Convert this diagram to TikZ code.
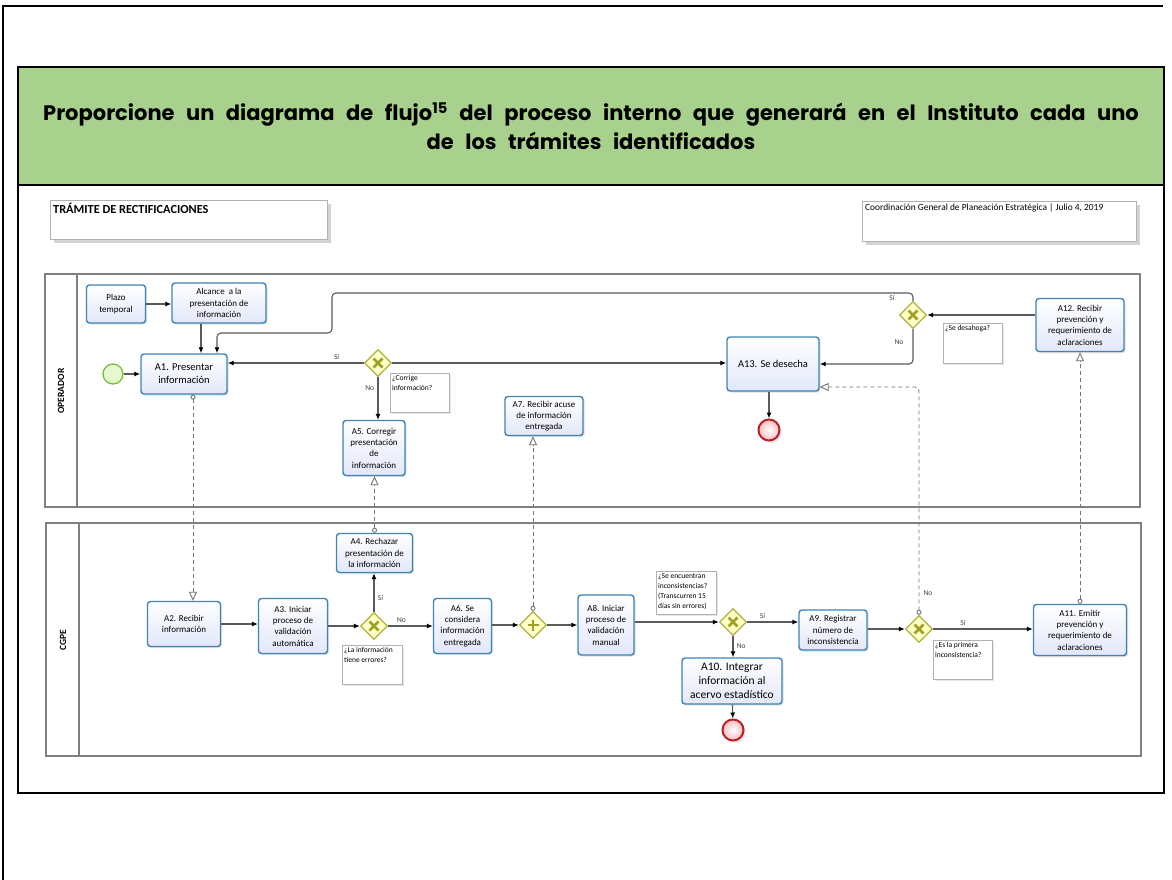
\documentclass[tikz,border=0pt]{standalone}
\usepackage{fontspec}
\setmainfont{Carlito}
\newfontfamily\titlefont{Poppins}
\usepackage{tikz}
\usetikzlibrary{calc,arrows.meta,shapes.geometric,shadows}

\definecolor{taskline}{RGB}{62,132,180}
\definecolor{taskfill}{RGB}{226,231,250}
\definecolor{gateline}{RGB}{176,176,60}
\definecolor{gatefill}{RGB}{255,255,200}
\definecolor{gatemark}{RGB}{160,160,40}
\definecolor{endline}{RGB}{190,30,40}
\definecolor{endfill}{RGB}{245,190,190}
\definecolor{startline}{RGB}{120,190,60}
\definecolor{startfill}{RGB}{230,248,205}
\definecolor{hdrgreen}{RGB}{169,209,142}
\definecolor{flowgray}{RGB}{90,90,90}

\def\tasksz{\fontsize{9}{11.3}\selectfont}
\def\bigsz{\fontsize{10.5}{12.7}\selectfont}
\def\notesz{\fontsize{7.5}{10}\selectfont}
\def\actnode{\node[task]}
\def\gatenode{\node[gateway]}
\def\seqflow{\draw[seq]}
\def\msgflow{\draw[msg]}
\newcommand\notebox[3]{\parbox[t][#2][t]{#1}{\raggedright #3}}

\tikzset{
  sz/.style 2 args={minimum width=#1pt, minimum height=#2pt},
  task/.style={rounded corners=3pt, draw=taskline, line width=1.4pt,
    top color=white, bottom color=taskfill, align=center, inner sep=1pt,
    font=\tasksz, drop shadow={shadow xshift=1.5pt, shadow yshift=-1.5pt, opacity=.25}},
  gateway/.style={diamond, aspect=1, minimum size=27pt, inner sep=0pt,
    draw=gateline, line width=1.3pt, fill=gatefill,
    path picture={\draw[line width=2.6pt, gatemark]
      ($(path picture bounding box.center)+(-4.5pt,-4.5pt)$) -- ($(path picture bounding box.center)+(4.5pt,4.5pt)$)
      ($(path picture bounding box.center)+(-4.5pt,4.5pt)$) -- ($(path picture bounding box.center)+(4.5pt,-4.5pt)$);}},
  pargate/.style={diamond, aspect=1, minimum size=27pt, inner sep=0pt,
    draw=gateline, line width=1.3pt, fill=gatefill,
    path picture={\draw[line width=2.8pt, gatemark]
      ($(path picture bounding box.center)+(-5.5pt,0pt)$) -- ($(path picture bounding box.center)+(5.5pt,0pt)$)
      ($(path picture bounding box.center)+(0pt,5.5pt)$) -- ($(path picture bounding box.center)+(0pt,-5.5pt)$);}},
  startev/.style={circle, minimum size=20pt, inner sep=0pt, draw=startline, line width=1.3pt, fill=startfill},
  endev/.style={circle, minimum size=21pt, inner sep=0pt, draw=endline, line width=2pt,
    inner color=white, outer color=endfill, drop shadow={opacity=.2}},
  annot/.style={draw=gray!60, fill=white, inner sep=2pt, anchor=north west, font=\notesz,
    drop shadow={shadow xshift=2pt, shadow yshift=-2pt, opacity=.2}},
  hdrbox/.style={draw=gray!60, fill=white, inner sep=3pt, anchor=north west,
    drop shadow={shadow xshift=4pt, shadow yshift=-4pt, opacity=.35}},
  seq/.style={draw=flowgray, line width=1.1pt, -{Latex[length=6pt,width=5pt,black]}},
  msg/.style={draw=gray!90!black, line width=0.9pt, dash pattern=on 4pt off 3pt,
    {Circle[open,length=5pt,width=5pt]}-{Triangle[open,length=9pt,width=8pt]}},
  pool/.style={draw=gray, line width=1.3pt},
  lanelabel/.style={rotate=90, font=\fontsize{9.5}{11}\selectfont\bfseries},
  flowlabel/.style={font=\fontsize{7.5}{9}\selectfont, text=black!75}
}

\begin{document}
\begin{tikzpicture}[x=1pt,y=-1pt]
\useasboundingbox (0,0) rectangle (1172,880);

% page frame and header cell
\draw[line width=2pt] (3,880) -- (3,6) -- (1163,6);
\draw[line width=2pt, fill=hdrgreen] (18,67) rectangle (1164,185);
\draw[line width=2pt] (18,185) -- (18,793) -- (1164,793) -- (1164,185);
\node[align=center, font=\titlefont\bfseries\fontsize{21}{29}\selectfont] (title) at (591,126)
  {\spaceskip=11.5pt plus 1pt Proporcione un diagrama de flujo\textsuperscript{15} del proceso interno que generará en el Instituto cada uno\\
   \spaceskip=11.5pt plus 1pt de los trámites identificados};

% title boxes
\node[hdrbox] (tram) at (50,200) {\notebox{271pt}{33pt}{\fontsize{12.3}{13}\selectfont\bfseries TRÁMITE DE RECTIFICACIONES}};
\node[hdrbox] (cgpeinfo) at (862,201) {\notebox{268pt}{34pt}{\fontsize{9.4}{11}\selectfont Coordinación General de Planeación Estratégica | Julio 4, 2019}};

% pools
\draw[pool] (45,274) rectangle (1140,507);
\draw[pool] (77,274) -- (77,507);
\draw[pool] (46,523) rectangle (1141,756);
\draw[pool] (79,523) -- (79,756);
\node[lanelabel] (lop) at (61,391) {OPERADOR};
\node[lanelabel] (lcg) at (63,640) {CGPE};

% operador lane
\node[startev] (start) at (113,374) {};
\actnode (plazo) at (116,304) [sz={59}{38}] {Plazo\\temporal};
\actnode (alcance) at (219,303) [sz={94}{40}] {Alcance\ \ a la\\presentación de\\información};
\actnode (A1) at (184,374) [sz={86}{40}, font=\bigsz] {A1. Presentar\\información};
\gatenode (g1) at (378,363) {};
\node[annot] (n1) at (390,373) {\notebox{55pt}{35pt}{¿Corrige\\información?}};
\actnode (A5) at (374,448) [sz={62}{55}] {A5. Corregir\\presentación\\de\\información};
\actnode (A7) at (544,416) [sz={78}{39}] {A7. Recibir acuse\\de información\\entregada};
\actnode (A13) at (773,364) [sz={92}{54}, font=\bigsz] {A13. Se desecha};
\node[endev] (end1) at (769,430) {};
\gatenode (g5) at (913,315) {};
\node[annot] (n5) at (943,323) {\notebox{55pt}{36pt}{¿Se desahoga?}};
\actnode (A12) at (1080,325) [sz={88}{53}] {A12. Recibir\\prevención y\\requerimiento de\\aclaraciones};

% CGPE lane
\actnode (A2) at (184,624) [sz={73}{45}] {A2. Recibir\\información};
\actnode (A3) at (293,626) [sz={69}{55}] {A3. Iniciar\\proceso de\\validación\\automática};
\gatenode (g2) at (374,626) {};
\actnode (A4) at (374.5,553) [sz={76}{39}] {A4. Rechazar\\presentación de\\la información};
\node[annot] (n2) at (342,645) {\notebox{56pt}{35pt}{¿La información\\tiene errores?}};
\actnode (A6) at (462.5,626) [sz={58}{55}] {A6. Se\\considera\\información\\entregada};
\node[pargate] (g3) at (533,625) {};
\actnode (A8) at (606,625) [sz={56}{60}] {A8. Iniciar\\proceso de\\validación\\manual};
\node[annot] (n3) at (656,571) {\notebox{56pt}{39pt}{¿Se encuentran\\inconsistencias?\\(Transcurren 15\\días sin errores)}};
\gatenode (g4) at (733,622) {};
\actnode (A10) at (732,681) [sz={100}{46}, font=\fontsize{11.5}{14}\selectfont] {A10. Integrar\\información al\\acervo estadístico};
\node[endev] (end2) at (733,730) {};
\actnode (A9) at (833,630) [sz={68}{40}] {A9. Registrar\\número de\\inconsistencia};
\gatenode (g6) at (919,629) {};
\node[annot] (n6) at (933,640) {\notebox{55pt}{35pt}{¿Es la primera\\inconsistencia?}};
\actnode (A11) at (1080,630) [sz={93}{51}] {A11. Emitir\\prevención y\\requerimiento de\\aclaraciones};

% sequence flows, operador
\seqflow (start) -- (A1);
\seqflow (plazo.east) -- (plazo.east -| alcance.west);
\seqflow ([xshift=-18pt]alcance.south) -- ([xshift=-18pt]alcance.south |- A1.north);
\seqflow (g1.west) -- (g1 -| A1.east) node[flowlabel, pos=0.2, above] {Sí};
\seqflow (g1.east) -- (g1 -| A13.west);
\seqflow (g1.south) -- (g1 |- A5.north) node[flowlabel, pos=0.25, left] {No};
\seqflow (A13.south -| end1) -- (end1.north);
\seqflow (A12.west |- g5) -- (g5.east);
\coordinate (loopa) at (332,293);
\coordinate (loopb) at (217,333);
\draw[seq, rounded corners=4pt] (g5.north) |- (loopa) |- (loopb) -- (loopb |- A1.north);
\node[flowlabel] (si5) at (892,298) {Sí};
\draw[seq, rounded corners=4pt] (g5.south) |- (A13.east);
\node[flowlabel] (no5) at (899,342) {No};

% sequence flows, CGPE
\seqflow (A2.east) -- (A2.east -| A3.west);
\seqflow (A3.east |- g2) -- (g2.west);
\seqflow (g2.north) -- (g2 |- A4.south) node[flowlabel, pos=0.35, right] {Sí};
\seqflow (g2.east) -- (g2 -| A6.west) node[flowlabel, pos=0.3, above] {No};
\seqflow (A6.east |- g3) -- (g3.west);
\seqflow (g3.east) -- (g3 -| A8.west);
\seqflow (A8.east |- g4) -- (g4.west);
\seqflow (g4.east) -- (g4 -| A9.west) node[flowlabel, pos=0.3, above] {Sí};
\seqflow (g4.south) -- (g4 |- A10.north) node[flowlabel, pos=0.45, right] {No};
\seqflow (A10) -- (end2);
\seqflow (A9.east |- g6) -- (g6.west);
\seqflow (g6.east) -- (g6 -| A11.west) node[flowlabel, pos=0.3, above] {Sí};

% message flows between the lanes
\msgflow ([xshift=9pt]A1.south) -- ([xshift=9pt]A1.south |- A2.north);
\msgflow (A4.north) -- (A4.north |- A5.south);
\msgflow (g3.north) -- (g3 |- A7.south);
\msgflow (A11.north) -- (A12.south);
\draw[msg, rounded corners=4pt] (g6.north) |- ([yshift=-23pt]A13.east);
\node[flowlabel] (no6) at (928,593) {No};
\end{tikzpicture}
\end{document}
